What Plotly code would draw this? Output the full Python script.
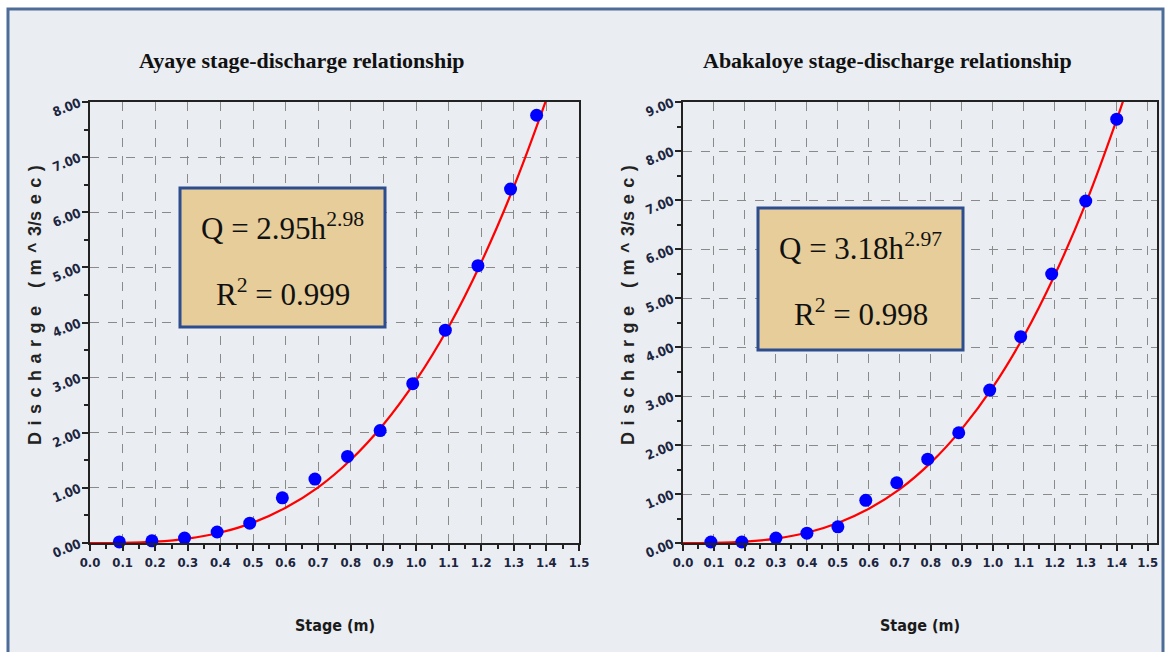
import plotly.graph_objects as go

# ---------------- data ----------------
stage_ayaye = [0.09, 0.19, 0.29, 0.39, 0.49, 0.59, 0.69, 0.79, 0.89, 0.99, 1.09, 1.19, 1.29, 1.37]
q_ayaye = [0.02, 0.04, 0.09, 0.20, 0.36, 0.82, 1.16, 1.57, 2.04, 2.89, 3.86, 5.03, 6.42, 7.76]

stage_abak = [0.09, 0.19, 0.30, 0.40, 0.50, 0.59, 0.69, 0.79, 0.89, 0.99, 1.09, 1.19, 1.30, 1.40]
q_abak = [0.02, 0.02, 0.10, 0.20, 0.33, 0.87, 1.23, 1.71, 2.25, 3.12, 4.21, 5.49, 6.98, 8.65]

# fitted (red) curve
curve_h = [0.0, 0.1, 0.2, 0.3, 0.4, 0.5, 0.6, 0.7, 0.8, 0.9, 1.0, 1.1, 1.2, 1.3, 1.4, 1.45]
curve_ayaye = [0.0, 0.003, 0.024, 0.08, 0.19, 0.37, 0.64, 1.01, 1.51, 2.15, 2.95, 3.92, 5.09, 6.46, 8.05, 8.93]
curve_abak = [0.0, 0.003, 0.027, 0.09, 0.21, 0.41, 0.70, 1.10, 1.64, 2.33, 3.18, 4.22, 5.47, 6.93, 8.64, 9.59]

titles = ["Ayaye stage-discharge relationship", "Abakaloye stage-discharge relationship"]
eq_lines = [["Q = 2.95h<sup>2.98</sup>", "R<sup>2</sup> = 0.999"],
            ["Q = 3.18h<sup>2.97</sup>", "R<sup>2</sup> = 0.998"]]
x_ticks = [0.0, 0.1, 0.2, 0.3, 0.4, 0.5, 0.6, 0.7, 0.8, 0.9, 1.0, 1.1, 1.2, 1.3, 1.4, 1.5]
y_ticks_left = [0, 1, 2, 3, 4, 5, 6, 7, 8]
y_ticks_right = [0, 1, 2, 3, 4, 5, 6, 7, 8, 9]
y_title_tokens = ["D", "i", "s", "c", "h", "a", "r", "g", "e", "\u00a0", "(", "m", "^", "3/s", "e", "c", ")"]
x_title = "Stage (m)"

# ---------------- layout helpers ----------------
W, H = 1170, 652
def px(x):
    return x / W
def py(y):
    return 1 - y / H

NARROW = "DejaVu Sans Condensed, Liberation Sans Narrow, Liberation Sans, Arial, sans-serif"

fig = go.Figure()

fig.add_trace(go.Scatter(x=curve_h, y=curve_ayaye, mode="lines", line=dict(color="#ff0000", width=2.2, shape="spline"),
                         xaxis="x", yaxis="y", showlegend=False, hoverinfo="skip"))
fig.add_trace(go.Scatter(x=stage_ayaye, y=q_ayaye, mode="markers", marker=dict(color="#0000ff", size=13, symbol="circle"),
                         xaxis="x", yaxis="y", showlegend=False, cliponaxis=False))
fig.add_trace(go.Scatter(x=curve_h, y=curve_abak, mode="lines", line=dict(color="#ff0000", width=2.2, shape="spline"),
                         xaxis="x2", yaxis="y2", showlegend=False, hoverinfo="skip"))
fig.add_trace(go.Scatter(x=stage_abak, y=q_abak, mode="markers", marker=dict(color="#0000ff", size=13, symbol="circle"),
                         xaxis="x2", yaxis="y2", showlegend=False, cliponaxis=False))

tick_font = dict(family=NARROW, size=13, color="#1c2540")

def xaxis_cfg(x0, x1, rng, anchor):
    return dict(domain=[px(x0), px(x1)], range=rng, anchor=anchor,
                tickvals=x_ticks, ticktext=[f"<b>{v:.1f}</b>" for v in x_ticks],
                showgrid=True, gridcolor="#8a8a8a", griddash="dash", gridwidth=1, zeroline=False,
                showline=True, linecolor="#222222", linewidth=2, mirror=True,
                ticks="outside", ticklen=6, tickcolor="#222222", tickwidth=1.5,
                minor=dict(dtick=0.05, ticks="outside", ticklen=4, tickcolor="#222222", showgrid=False),
                tickfont=tick_font, automargin=False, fixedrange=True)

def yaxis_cfg(y0, y1, rng, vals, anchor):
    return dict(domain=[py(y1), py(y0)], range=rng, anchor=anchor,
                tickvals=vals, ticktext=[f"<b>{v:.2f}</b>" for v in vals],
                showgrid=True, gridcolor="#8a8a8a", griddash="dash", gridwidth=1, zeroline=False,
                showline=True, linecolor="#222222", linewidth=2, mirror=True,
                ticks="outside", ticklen=6, tickcolor="#222222", tickwidth=1.5,
                minor=dict(dtick=0.5, ticks="outside", ticklen=4, tickcolor="#222222", showgrid=False),
                tickfont=tick_font, tickangle=-22, automargin=False, fixedrange=True)

shapes = []
# outer framed background
shapes.append(dict(type="rect", xref="paper", yref="paper", x0=px(8), x1=px(1163), y0=py(700), y1=py(9),
                   fillcolor="#eaedf1", line=dict(color="#4e6c98", width=3), layer="below"))

spaced_y_title = " \u200a".join(y_title_tokens)

annotations = []
panels = [
    dict(title_cx=302, box=(180, 188, 385, 327), ytitle_x=35, xtitle_cx=335),
    dict(title_cx=887, box=(758, 208, 963, 350), ytitle_x=628, xtitle_cx=920),
]
for i, p in enumerate(panels):
    annotations.append(dict(text=f"<b>{titles[i]}</b>", x=px(p["title_cx"]), y=py(60), xref="paper", yref="paper",
                            showarrow=False, xanchor="center", yanchor="middle",
                            font=dict(family="Liberation Serif", size=22, color="#111111")))
    bx0, by0, bx1, by1 = p["box"]
    shapes.append(dict(type="rect", xref="paper", yref="paper", x0=px(bx0), x1=px(bx1), y0=py(by1), y1=py(by0),
                       fillcolor="#e6cd9a", line=dict(color="#2c4d8e", width=3), layer="above"))
    cx = (bx0 + bx1) / 2
    annotations.append(dict(text=eq_lines[i][0], x=px(cx), y=py(by0 + 38), xref="paper", yref="paper",
                            showarrow=False, xanchor="center", yanchor="middle",
                            font=dict(family="Liberation Serif", size=31, color="#111111")))
    annotations.append(dict(text=eq_lines[i][1], x=px(cx), y=py(by0 + 104), xref="paper", yref="paper",
                            showarrow=False, xanchor="center", yanchor="middle",
                            font=dict(family="Liberation Serif", size=31, color="#111111")))
    annotations.append(dict(text=f"<b>{spaced_y_title}</b>", x=px(p["ytitle_x"]), y=py(305),
                            xref="paper", yref="paper", showarrow=False, textangle=-90,
                            xanchor="center", yanchor="middle",
                            font=dict(family="Liberation Sans, Arial, sans-serif", size=18, color="#222222")))
    annotations.append(dict(text=f"<b>{x_title}</b>", x=px(p["xtitle_cx"]), y=py(625), xref="paper", yref="paper",
                            showarrow=False, xanchor="center", yanchor="middle",
                            font=dict(family=NARROW, size=16, color="#1a1a1a")))

fig.update_layout(
    width=W, height=H, margin=dict(l=0, r=0, t=0, b=0, autoexpand=False),
    paper_bgcolor="#ffffff", plot_bgcolor="#ffffff",
    xaxis=xaxis_cfg(90, 579, [0, 1.5], "y"),
    yaxis=yaxis_cfg(102, 543, [0, 8], y_ticks_left, "x"),
    xaxis2=xaxis_cfg(683, 1157, [0, 1.53], "y2"),
    yaxis2=yaxis_cfg(102, 543, [0, 9], y_ticks_right, "x2"),
    shapes=shapes, annotations=annotations, showlegend=False,
)

fig.write_html("out.html", config={"displayModeBar": False},
               post_script="document.body.style.margin='0';document.body.style.overflow='hidden';")
